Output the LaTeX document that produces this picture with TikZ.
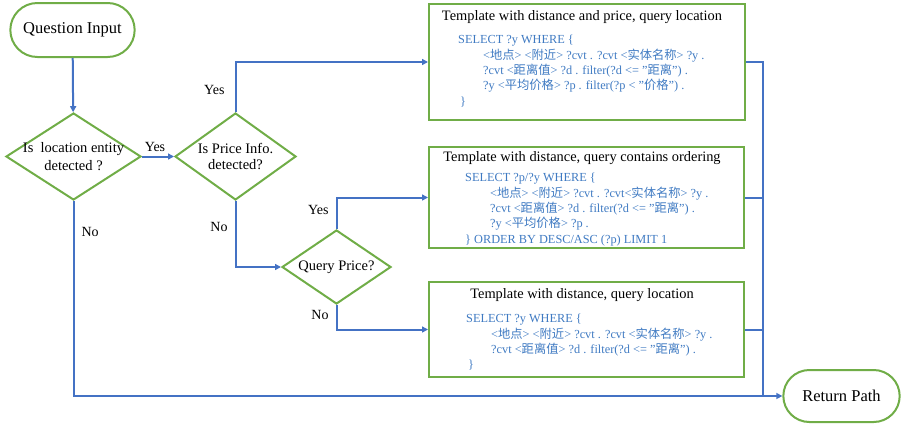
\documentclass[tikz,border=0pt]{standalone}
\usepackage{fontspec}
\setmainfont{Liberation Serif}
\newfontfamily\cjk{Noto Sans CJK SC}
\usetikzlibrary{shapes.geometric,shapes.misc,arrows.meta}

\definecolor{flowblue}{HTML}{4472C4}
\definecolor{boxgreen}{HTML}{70AD47}
\definecolor{codeblue}{HTML}{3F7AC2}

% chinese words inside the query templates
\newcommand{\zh}[1]{{\cjk #1}}
% straight double quote, kept away from the tex-text mapping
\newcommand{\dq}{\symbol{34}}

\tikzset{
	terminal/.style={rounded rectangle, draw=boxgreen, line width=2pt, fill=white,
		font=\fontsize{16.5}{18}\selectfont},
	decision/.style={diamond, draw=boxgreen, line width=2pt, inner sep=0pt},
	dtext/.style={align=center, font=\fontsize{14.5}{18}\selectfont},
	template/.style={rectangle, draw=boxgreen, line width=2pt},
	title/.style={font=\fontsize{14.4}{16}\selectfont},
	code/.style={anchor=north west, align=left, inner sep=0pt, text=codeblue,
		font=\fontsize{12.3}{15.4}\selectfont},
	flow/.style={draw=flowblue, line width=2pt, -{Triangle[length=6pt,width=6pt]}},
	line/.style={draw=flowblue, line width=2pt},
	answer/.style={font=\fontsize{14}{16}\selectfont, inner sep=7pt}
}

\begin{document}
\begin{tikzpicture}[x=1pt, y=-1pt]
	\useasboundingbox (0,0) rectangle (904,426);

	% start / end
	\node[terminal, minimum width=131pt, minimum height=54pt] (start) at (72.5,30) {Question Input};
	\node[terminal, minimum width=123pt, minimum height=52pt] (ret) at (841.5,396) {Return Path};

	% decisions
	\node[decision, minimum width=135pt, minimum height=87pt] (loc) at (73.5,156.5) {};
	\node[dtext] (loctext) at (loc) {Is\ \ location entity\\detected ?};
	\node[decision, minimum width=121pt, minimum height=87pt] (price) at (235.5,156.5) {};
	\node[dtext, font=\fontsize{14.5}{16}\selectfont] (pricetext) at (price) {Is Price Info.\\detected?};
	\node[decision, minimum width=109pt, minimum height=74pt] (qprice) at (336.5,267) {};
	\node[dtext] (qpricetext) at (qprice) {Query Price?};

	% query templates
	\node[template, minimum width=316pt, minimum height=116pt] (tpl1) at (587,62) {};
	\node[template, minimum width=315pt, minimum height=101pt] (tpl2) at (586.5,197.5) {};
	\node[template, minimum width=315pt, minimum height=95pt] (tpl3) at (586.5,329.5) {};

	\node[title] (head1) at (582,17) {Template with distance and price, query location};
	\node[code] (code1) at (458,35) {SELECT ?y WHERE \{\\
		\hspace*{25pt}<\zh{地点}> <\zh{附近}> ?cvt . ?cvt <\zh{实体名称}> ?y .\\
		\hspace*{25pt}?cvt <\zh{距离值}> ?d . filter(?d <= \dq\zh{距离}\dq) .\\
		\hspace*{25pt}?y <\zh{平均价格}> ?p . filter(?p < \dq\zh{价格}\dq) .\\
		\hspace*{2pt}\}};

	\node[title] (head2) at (582,158) {Template with distance, query contains ordering};
	\node[code] (code2) at (465,173) {SELECT ?p/?y WHERE \{\\
		\hspace*{25pt}<\zh{地点}> <\zh{附近}> ?cvt . ?cvt<\zh{实体名称}> ?y .\\
		\hspace*{25pt}?cvt <\zh{距离值}> ?d . filter(?d <= \dq\zh{距离}\dq) .\\
		\hspace*{25pt}?y <\zh{平均价格}> ?p .\\
		\} ORDER BY DESC/ASC (?p) LIMIT 1};

	\node[title] (head3) at (582,295) {Template with distance, query location};
	\node[code] (code3) at (466,314) {SELECT ?y WHERE \{\\
		\hspace*{25pt}<\zh{地点}> <\zh{附近}> ?cvt . ?cvt <\zh{实体名称}> ?y .\\
		\hspace*{25pt}?cvt <\zh{距离值}> ?d . filter(?d <= \dq\zh{距离}\dq) .\\
		\hspace*{2pt}\}};

	% connectors
	\coordinate (join) at (763,396);
	\draw[flow] (start) -- (loc);
	\draw[flow] (loc.east) -- node[answer, above, inner sep=4pt, xshift=-3pt] (yes1) {Yes} (price.west);
	\draw[flow] (price.north) |- node[answer, left, pos=0.22, xshift=-3pt] (yes2) {Yes} (tpl1.west);
	\draw[flow] (price.south) |- node[answer, left, pos=0.2] (no2) {No} (qprice.west);
	\draw[flow] (qprice.north) |- node[answer, left, pos=0.3] (yes3) {Yes} (tpl2.west);
	\draw[flow] (qprice.south) |- node[answer, left, pos=0.2] (no3) {No} (tpl3.west);
	\draw[flow] (loc.south) |- node[answer, right, pos=0.08] (no1) {No} (ret.west);

	\draw[line] (tpl1.east) -| (join);
	\draw[line] (tpl2.east) -- (tpl2.east -| join);
	\draw[line] (tpl3.east) -- (tpl3.east -| join);
\end{tikzpicture}
\end{document}
